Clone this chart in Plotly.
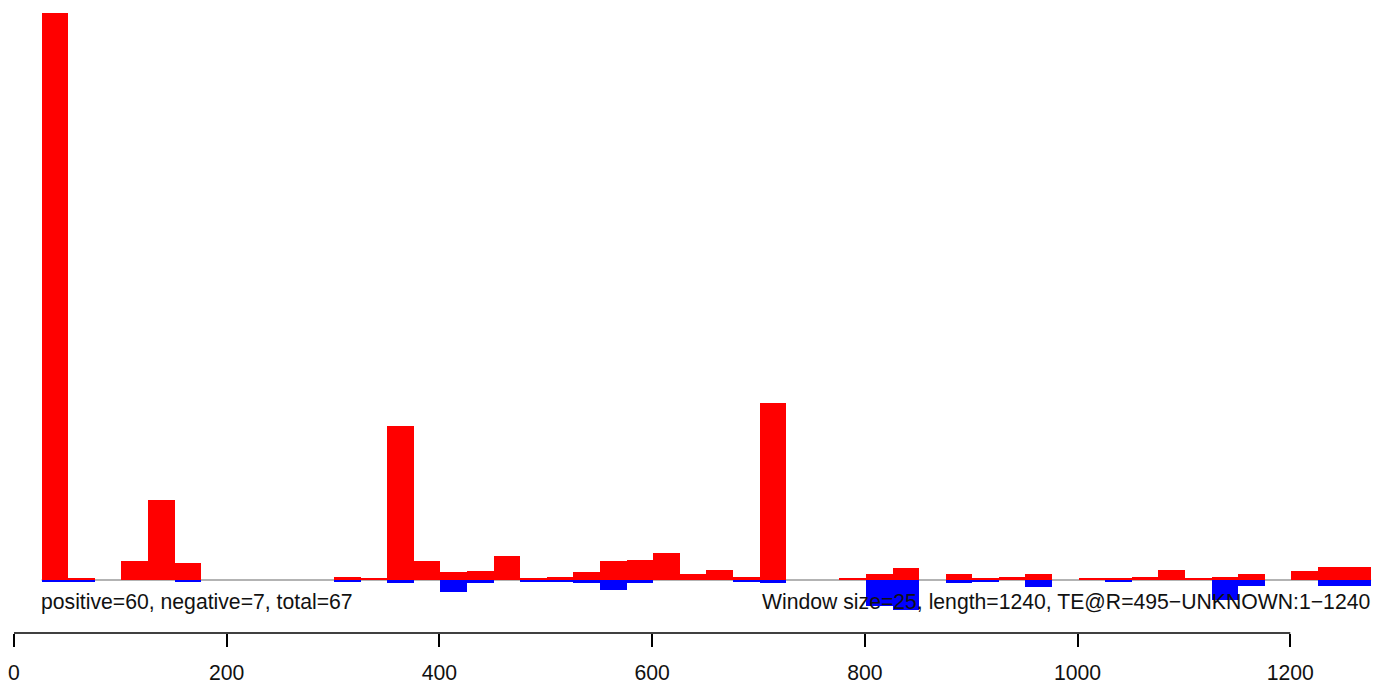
import plotly.graph_objects as go

# ---- data -----------------------------------------------------------------
window_size = 25
n_bins = 50
bin_start = [1 + window_size * (k + 1) for k in range(n_bins)]   # 26, 51, ...
bin_center = [s + window_size / 2 for s in bin_start]

positive = [567, 2, 0, 19, 80, 16.7, 0, 0, 0, 0,
            0, 2.7, 2.3, 154, 19, 7.7, 8.7, 23.7, 2, 3,
            8, 19, 20, 27, 5.7, 10, 3, 177, 0, 0,
            2, 6, 11.7, 0, 5.7, 2, 2.7, 5.7, 0, 2,
            2, 2.7, 10, 2, 2.7, 5.7, 0, 8.7, 12.7, 12.7]

negative = [1.7, 1.7, 0, 0, 0, 2, 0, 0, 0, 0,
            0, 2, 0, 3, 0, 12, 3, 0, 2, 1.7,
            3, 10.3, 3, 0, 0, 0, 2, 3, 0, 0,
            0, 26, 30, 0, 3, 1.7, 0, 7, 0, 0,
            1.7, 0, 0, 0, 20, 6.3, 0, 0, 6.3, 6.3]

tick_vals = [0, 200, 400, 600, 800, 1000, 1200]
left_text = "positive=60, negative=7, total=67"
right_text = "Window size=25, length=1240, TE@R=495\u2212UNKNOWN:1\u22121240"

FONT = "Liberation Sans, Arial, Helvetica, sans-serif"
TEXT_SIZE = 21.2

fig = go.Figure()

fig.add_trace(go.Bar(x=bin_center, y=positive, width=window_size,
                     marker=dict(color="#FF0000", line=dict(width=0)),
                     showlegend=False, hoverinfo="skip"))
fig.add_trace(go.Bar(x=bin_center, y=[-v for v in negative], width=window_size,
                     marker=dict(color="#0000FF", line=dict(width=0)),
                     showlegend=False, hoverinfo="skip"))

# baseline (gray) across the windows
fig.add_shape(type="line", xref="x", yref="y",
              x0=bin_start[0], x1=bin_start[-1] + window_size, y0=0, y1=0,
              line=dict(color="#9a9a9a", width=1.3), layer="below")

# axis line from 0 to 1200
fig.add_shape(type="line", xref="x", yref="paper",
              x0=tick_vals[0], x1=tick_vals[-1], y0=0, y1=0,
              line=dict(color="black", width=1.6))

fig.add_annotation(x=bin_start[0], y=-22, xref="x", yref="y",
                   text=left_text, showarrow=False,
                   xanchor="left", yanchor="middle", xshift=-2, borderpad=0,
                   font=dict(family=FONT, size=TEXT_SIZE, color="#111"))
fig.add_annotation(x=bin_start[-1] + window_size, y=-22, xref="x", yref="y",
                   text=right_text, showarrow=False,
                   xanchor="right", yanchor="middle", borderpad=0,
                   font=dict(family=FONT, size=TEXT_SIZE, color="#111"))

# page body has an 8px margin: size the figure to fit the 1387x685 window
fig.update_layout(
    width=1379, height=677,
    margin=dict(l=6, r=1, t=5, b=52),
    paper_bgcolor="white", plot_bgcolor="white",
    barmode="overlay", bargap=0,
    xaxis=dict(range=[0, 1290], showgrid=False, zeroline=False, showline=False,
               tickmode="array", tickvals=tick_vals,
               ticktext=[str(v) for v in tick_vals],
               ticks="outside", ticklen=13, tickwidth=1.6, tickcolor="black",
               ticklabelstandoff=8,
               tickfont=dict(family=FONT, size=TEXT_SIZE, color="#111")),
    yaxis=dict(range=[-53, 567], showgrid=False, zeroline=False, showline=False,
               showticklabels=False, ticks=""),
)

fig.write_html("out.html")
